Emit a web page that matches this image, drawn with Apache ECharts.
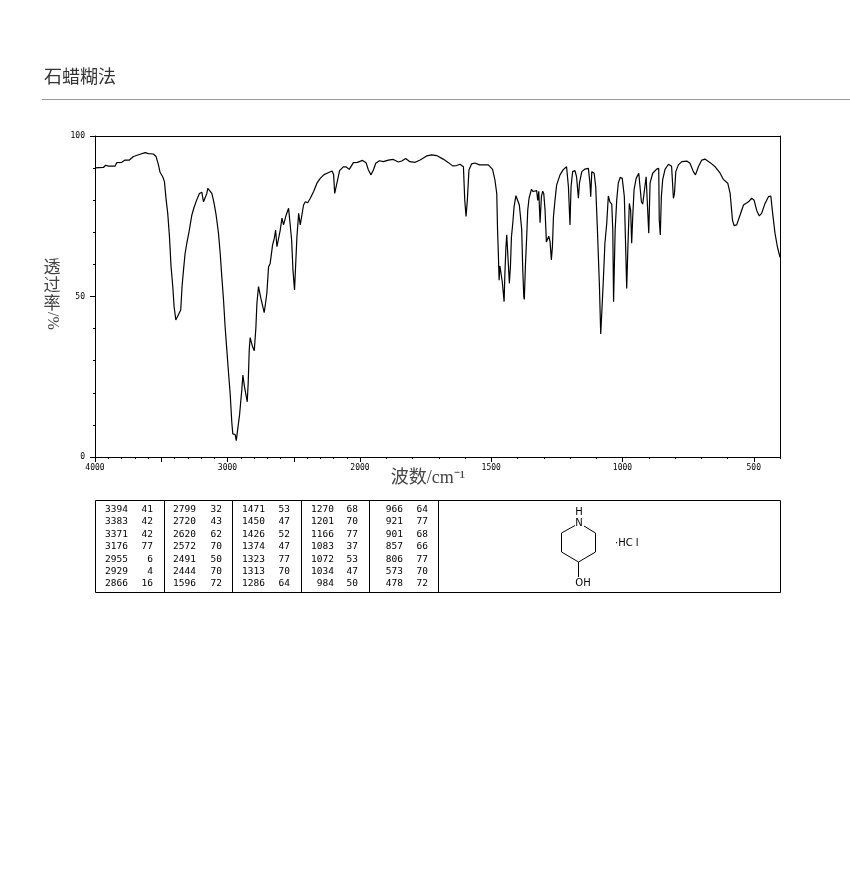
<!DOCTYPE html>
<html>
<head>
<meta charset="utf-8">
<style>html,body{margin:0;padding:0;background:#fff}#c{width:850px;height:879px}</style>
<script src="https://cdn.jsdelivr.net/npm/echarts@6/dist/echarts.min.js"></script>
</head>
<body>
<div id="c"></div>
<script>
// Spectrum, high-wavenumber panel (4000-2000 cm-1)
const highWavenumber = [4000,3937,3919,3899,3849,3836,3798,3786,3773,3741,3710,3660,3622,3597,3559,3539,3521,3509,3489,3476,3463,3451,3438,3426,3413,3403,3390,3378,3363,3353,3343,3332,3320,3307,3290,3269,3252,3232,3212,3194,3181,3169,3156,3149,3136,3118,3101,3086,3068,3055,3043,3030,3018,3005,2992,2980,2967,2960,2942,2934,2922,2909,2899,2892,2884,2877,2872,2861,2851,2844,2836,2829,2821,2811,2798,2786,2778,2766,2756,2748,2733,2723,2713,2703,2690,2678,2660,2647,2637,2627,2615,2602,2589,2577,2569,2557,2539,2526,2516,2506,2494,2484,2476,2463,2451,2441,2426,2413,2395,2375,2350,2325,2300,2274,2249,2211,2199,2191,2179,2169,2154,2151,2126,2106,2081,2050,2020,2000];
const highTransmittance = [90.1,90.2,90.9,90.6,90.6,91.7,91.8,91.6,92.5,92.5,93.6,94.3,94.8,94.5,94.4,93.6,91.0,88.7,87.3,85.8,80.1,75.9,68.6,59.3,53.1,46.8,42.7,43.7,44.1,45.8,53.1,58.3,63.4,66.6,70.2,75.4,77.8,80.1,82.1,82.5,79.5,79.4,82.1,83.7,83.7,82.1,79.0,75.4,69.7,63.4,56.2,48.9,40.6,33.3,26.1,19.8,10.5,7.2,7.0,5.1,5.1,13.1,17.8,20.9,25.5,25.8,21.9,21.9,17.2,22.9,33.3,37.2,37.0,34.4,33.1,40.1,47.9,53.1,53.6,49.4,48.9,45.0,47.9,51.0,59.3,60.3,66.0,68.1,70.7,65.5,65.0,70.7,74.4,72.3,71.8,75.4,77.5,78.0,67.6,58.3,52.0,61.4,68.6,75.9,72.3,72.8,78.5,79.5,79.2,80.6,82.7,85.3,86.8,87.9,88.4,89.1,87.9,82.1,81.5,86.3,89.2,89.4,90.4,90.4,89.6,91.7,91.8,92.1];
// Spectrum, low-wavenumber panel (2000-400 cm-1)
const lowWavenumber = [2000,1990,1977,1968,1958,1949,1940,1926,1911,1892,1873,1854,1841,1826,1810,1790,1771,1746,1727,1708,1683,1663,1647,1632,1619,1606,1601,1596,1591,1585,1575,1562,1545,1511,1495,1486,1479,1476,1473,1470,1467,1462,1458,1454,1451,1448,1444,1441,1437,1435,1431,1427,1423,1418,1413,1406,1399,1393,1384,1380,1376,1374,1370,1365,1361,1356,1347,1340,1333,1327,1323,1319,1314,1309,1304,1300,1295,1290,1285,1281,1276,1271,1267,1263,1257,1251,1238,1225,1213,1206,1200,1196,1190,1181,1175,1168,1164,1155,1143,1130,1124,1121,1117,1108,1102,1096,1088,1083,1079,1073,1067,1060,1054,1048,1041,1037,1034,1028,1022,1016,1009,1001,993,988,984,979,974,969,965,961,956,948,938,933,928,923,918,910,905,900,895,885,870,862,860,856,852,847,838,825,813,806,802,797,787,774,755,743,730,722,711,698,686,666,647,628,616,599,590,581,575,565,552,539,520,508,499,489,479,470,457,444,435,428,419,410,400];
const lowTransmittance = [92.1,92.4,91.7,89.4,87.9,89.4,91.5,92.3,92.0,92.5,92.7,91.9,92.2,93.0,92.0,91.8,92.5,93.8,94.1,93.9,92.8,91.7,90.7,90.8,91.2,90.4,80.1,74.9,80.1,89.4,91.3,91.6,91.0,91.0,89.6,86.3,82.1,70.7,63.4,55.1,59.5,59.5,54.6,54.1,48.4,57.2,65.5,69.2,69.2,60.3,54.1,59.3,68.6,72.8,78.0,81.4,81.4,78.5,70.9,58.5,49.9,49.1,59.3,68.6,76.9,80.6,83.4,82.7,83.0,83.0,79.9,82.8,73.0,81.1,82.8,82.1,76.9,67.0,67.4,68.8,67.1,61.4,65.5,74.9,80.1,84.7,87.9,89.6,90.4,84.2,72.3,84.2,88.9,89.2,87.3,80.6,85.3,88.9,89.7,89.9,85.3,81.1,88.9,88.4,84.2,71.8,53.6,38.3,44.8,55.1,66.6,72.8,81.3,79.5,78.8,70.7,48.4,70.7,80.1,85.3,87.1,86.8,81.1,65.5,52.5,66.6,79.0,76.9,66.6,74.9,83.2,86.8,88.4,87.9,79.5,78.8,82.1,87.3,87.3,69.7,85.3,88.4,89.7,89.9,73.9,69.2,81.1,86.3,89.6,91.2,90.6,80.6,82.1,88.9,91.0,92.0,92.2,91.5,88.9,87.9,90.4,92.5,92.8,91.7,90.4,88.4,86.5,85.3,82.1,73.8,72.1,72.3,75.4,78.5,79.5,80.6,80.1,76.9,75.1,75.9,79.0,81.1,81.3,75.9,69.7,65.5,62.2];

// Axis tick labels
const highLabelTicks = [4000,3000,2000];
const lowLabelTicks = [1500,1000,500];
const highMajorTicks = [4000,3500,3000,2500,2000];
const lowMajorTicks = [2000,1500,1000,500];

// Peak table, one pair of lists per column block
const peakWavenumbers = [
  [3394,3383,3371,3176,2955,2929,2866],
  [2799,2720,2620,2572,2491,2444,1596],
  [1471,1450,1426,1374,1323,1313,1286],
  [1270,1201,1166,1083,1072,1034,984],
  [966,921,901,857,806,573,478]
];
const peakValues = [
  [41,42,42,77,6,4,16],
  [32,43,62,70,50,70,72],
  [53,47,52,47,77,70,64],
  [68,70,77,37,53,47,50],
  [64,77,68,66,77,70,72]
];

// Texts
const titleText = '石蜡糊法';
const xName = '波数/cm⁻¹';
const yNameChars = '透\n过\n率';
const yNameUnit = '/%';

const cjk = '"Liberation Serif","Noto Sans CJK SC",serif';
const mono = '"DejaVu Sans Mono",monospace';
const G = {x0:95, xm:360, x1:780, y0:136, y1:457};

const line = (x1,y1,x2,y2,w,c) => ({type:'line',silent:true,shape:{x1,y1,x2,y2},style:{stroke:c||'#000',lineWidth:w||1}});
const text = (x,y,t,o) => ({type:'text',silent:true,x,y,style:Object.assign({text:t,fill:'#000',font:'9.5px '+mono,textAlign:'right',textVerticalAlign:'middle'},o||{})});

const graphic = [];
graphic.push(line(42,99.5,850,99.5,1,'#999'));
// table frame
const tTop=500.5, tBot=592.5;
graphic.push({type:'rect',silent:true,shape:{x:95.5,y:tTop,width:685,height:tBot-tTop},style:{fill:'none',stroke:'#000',lineWidth:1}});
[164.5,232.5,301.5,369.5,438.5].forEach(x=>graphic.push(line(x,tTop,x,tBot)));
const wnRight=[128,196,265,334,403], valRight=[153,222,290,358,428];
peakWavenumbers.forEach((col,i)=>col.forEach((w,r)=>{
  const y=509.5+r*12.4;
  graphic.push(text(wnRight[i],y,String(w)));
  graphic.push(text(valRight[i],y,String(peakValues[i][r])));
}));
// structure
const ring=[[575,525.5],[561.5,533],[561.5,552],[578.5,562],[595.5,552],[595.5,533],[584,526]];
for(let i=0;i<ring.length-1;i++) graphic.push(line(ring[i][0],ring[i][1],ring[i+1][0],ring[i+1][1]));
graphic.push(line(578.5,562,578.5,577));
const atom=(x,y,t,a)=>text(x,y,t,{font:'10px "DejaVu Sans",sans-serif',textAlign:a||'center'});
graphic.push(atom(579,512,'H'),atom(579,523,'N'),atom(583,583,'OH'),atom(615,543,'·HC l','left'));
// axis-title unit, rotated
graphic.push({type:'text',silent:true,x:52,y:321,rotation:-Math.PI/2,style:{text:yNameUnit,fill:'#444',font:'16px '+cjk,textAlign:'center',textVerticalAlign:'middle'}});
graphic.push({type:'text',silent:true,x:52,y:287,style:{text:yNameChars,fill:'#444',font:'17px '+cjk,textAlign:'center',textVerticalAlign:'middle',lineHeight:18}});

const black={color:'#000',width:1};
const labelStyle={fontFamily:mono,fontSize:8,color:'#000'};
const blank={show:false};
function xAxes(gridIndex,min,max,labels,majors){
  return [
    {type:'value',gridIndex,min,max,inverse:true,interval:100,position:'bottom',splitLine:blank,
     axisLine:{onZero:false,lineStyle:black},axisTick:{length:2,lineStyle:black},
     axisLabel:Object.assign({customValues:labels,margin:7,hideOverlap:false,showMinLabel:true,showMaxLabel:true,formatter:v=>String(v)},labelStyle)},
    {type:'value',gridIndex,min,max,inverse:true,position:'bottom',splitLine:blank,axisLabel:blank,
     axisLine:blank,axisTick:{length:5,customValues:majors,lineStyle:black}},
    {type:'value',gridIndex,min,max,inverse:true,position:'top',splitLine:blank,axisLabel:blank,axisTick:blank,
     axisLine:{onZero:false,lineStyle:black}}
  ];
}
const option={
  animation:false,
  backgroundColor:'#fff',
  title:{text:titleText,left:44,top:69,padding:0,textStyle:{fontFamily:cjk,fontSize:18,fontWeight:'normal',color:'#333'}},
  grid:[
    {left:G.x0,width:G.xm-G.x0,top:G.y0,height:G.y1-G.y0,containLabel:false},
    {left:G.xm,width:G.x1-G.xm,top:G.y0,height:G.y1-G.y0,containLabel:false}
  ],
  xAxis:[...xAxes(0,2000,4000,highLabelTicks,highMajorTicks),...xAxes(1,400,2000,lowLabelTicks,lowMajorTicks)],
  yAxis:[
    {type:'value',gridIndex:0,min:0,max:100,interval:50,position:'left',splitLine:blank,
     axisLine:{onZero:false,lineStyle:black},axisTick:{length:5,lineStyle:black},
     minorTick:{show:true,splitNumber:5,length:2,lineStyle:black},minorSplitLine:blank,
     axisLabel:Object.assign({margin:10,padding:[2,0,0,0]},labelStyle)},
    {type:'value',gridIndex:1,min:0,max:100,position:'right',splitLine:blank,axisLabel:blank,axisTick:blank,
     axisLine:{onZero:false,lineStyle:black}}
  ],
  series:[
    {type:'line',xAxisIndex:0,yAxisIndex:0,symbol:'none',silent:true,lineStyle:{color:'#000',width:1.2},
     data:highWavenumber.map((w,i)=>[w,highTransmittance[i]])},
    {type:'line',xAxisIndex:3,yAxisIndex:1,symbol:'none',silent:true,lineStyle:{color:'#000',width:1.2},
     data:lowWavenumber.map((w,i)=>[w,lowTransmittance[i]])}
  ],
  graphic:{elements:graphic.concat([
    {type:'text',silent:true,x:428,y:478,style:{text:xName,fill:'#444',font:'18px '+cjk,textAlign:'center',textVerticalAlign:'middle'}}
  ])}
};
echarts.init(document.getElementById('c'),null,{renderer:'canvas'}).setOption(option);
</script>
</body>
</html>
